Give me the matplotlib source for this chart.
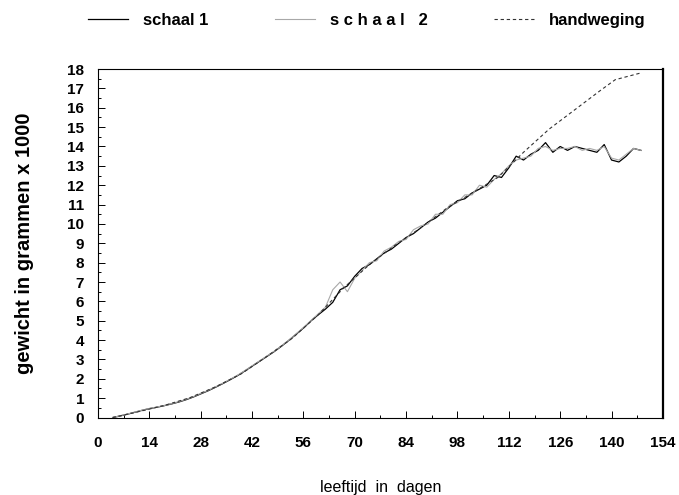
import matplotlib
matplotlib.use("Agg")
import matplotlib.pyplot as plt
from matplotlib.ticker import MultipleLocator

plt.rcParams['font.family'] = ['Liberation Sans', 'DejaVu Sans']

# leeftijd (dagen) voor de weegschalen
dagen = [4, 6, 8, 10, 12, 14, 16, 18, 20, 22, 24, 26, 28, 30, 32, 34, 36, 38,
         40, 42, 44, 46, 48, 50, 52, 54, 56, 58, 60, 62, 64, 66, 68, 70, 72, 74,
         76, 78, 80, 82, 84, 86, 88, 90, 92, 94, 96, 98, 100, 102, 104, 106, 108,
         110, 112, 114, 116, 118, 120, 122, 124, 126, 128, 130, 132, 134, 136,
         138, 140, 142, 144, 146, 148]

schaal1 = [0.0, 0.08, 0.17, 0.27, 0.37, 0.46, 0.53, 0.61, 0.70, 0.80, 0.92, 1.06,
           1.22, 1.38, 1.56, 1.75, 1.95, 2.16, 2.40, 2.65, 2.90, 3.15, 3.40, 3.68,
           3.98, 4.30, 4.62, 4.98, 5.30, 5.60, 5.95, 6.60, 6.80, 7.30, 7.70, 7.90,
           8.20, 8.50, 8.70, 9.00, 9.30, 9.50, 9.80, 10.1, 10.3, 10.6, 10.9, 11.2,
           11.3, 11.6, 11.8, 12.0, 12.5, 12.4, 12.9, 13.5, 13.3, 13.6, 13.8, 14.2,
           13.7, 14.0, 13.8, 14.0, 13.9, 13.8, 13.7, 14.1, 13.3, 13.2, 13.5, 13.9,
           13.8]

schaal2 = [0.0, 0.09, 0.18, 0.28, 0.38, 0.47, 0.54, 0.62, 0.71, 0.82, 0.94, 1.08,
           1.24, 1.40, 1.58, 1.77, 1.97, 2.18, 2.42, 2.67, 2.92, 3.17, 3.42, 3.70,
           4.00, 4.32, 4.65, 5.00, 5.35, 5.70, 6.60, 7.00, 6.50, 7.20, 7.60, 8.00,
           8.10, 8.60, 8.80, 9.10, 9.20, 9.70, 9.90, 10.0, 10.5, 10.5, 11.0, 11.1,
           11.5, 11.5, 12.0, 11.9, 12.3, 12.6, 13.0, 13.3, 13.4, 13.5, 13.9, 14.0,
           13.8, 13.9, 13.9, 14.0, 13.8, 13.9, 13.8, 14.0, 13.4, 13.3, 13.6, 13.9,
           13.8]

# handweging, wekelijks
dagen_hand = [4, 11, 18, 25, 32, 39, 46, 53, 60, 67, 74, 81, 88, 95, 102, 109,
              116, 123, 130, 137, 141, 148]
handweging = [0.0, 0.3, 0.62, 1.02, 1.58, 2.25, 3.15, 4.1, 5.3, 6.7, 7.9, 8.9,
              9.8, 10.8, 11.6, 12.4, 13.7, 14.9, 15.9, 16.9, 17.45, 17.8]

fig = plt.figure(figsize=(6.79, 4.95), dpi=100)
ax = fig.add_axes([0.1443, 0.1565, 0.832, 0.704])

l1, = ax.plot(dagen, schaal1, color='black', linewidth=0.9, label='schaal 1')
l2, = ax.plot(dagen, schaal2, color='#a8a8a8', linewidth=0.8, label='s c h a a l   2')
l3, = ax.plot(dagen_hand, handweging, color='#333333', linewidth=0.8,
              dashes=(3, 2.5), label='handweging')

ax.set_xlim(0, 154)
ax.set_ylim(0, 18)
ax.xaxis.set_major_locator(MultipleLocator(14))
ax.xaxis.set_minor_locator(MultipleLocator(7))
ax.yaxis.set_major_locator(MultipleLocator(1))
ax.yaxis.set_minor_locator(MultipleLocator(0.5))
ax.tick_params(which='both', direction='in', width=0.7)
ax.tick_params(which='major', length=5, labelsize=11)
ax.tick_params(which='minor', length=2.5)
ax.tick_params(axis='x', pad=13)
ax.tick_params(axis='y', pad=10)
for lab in ax.get_xticklabels() + ax.get_yticklabels():
    lab.set_fontweight('bold')

for s in ['left', 'bottom', 'top']:
    ax.spines[s].set_linewidth(0.8)
ax.spines['right'].set_linewidth(1.6)

ax.set_ylabel('gewicht in grammen x 1000', fontsize=14.5, fontweight='bold', labelpad=24)
ax.set_xlabel('leeftijd  in  dagen', fontsize=11.5, labelpad=22)

fig.legend(handles=[l1, l2, l3], loc='upper center', bbox_to_anchor=(0.54, 1.005),
           ncol=3, frameon=False, columnspacing=4.0, handlelength=2.4,
           handletextpad=0.9, prop={'size': 12, 'weight': 'bold'})

fig.savefig('out.png', dpi=100)
